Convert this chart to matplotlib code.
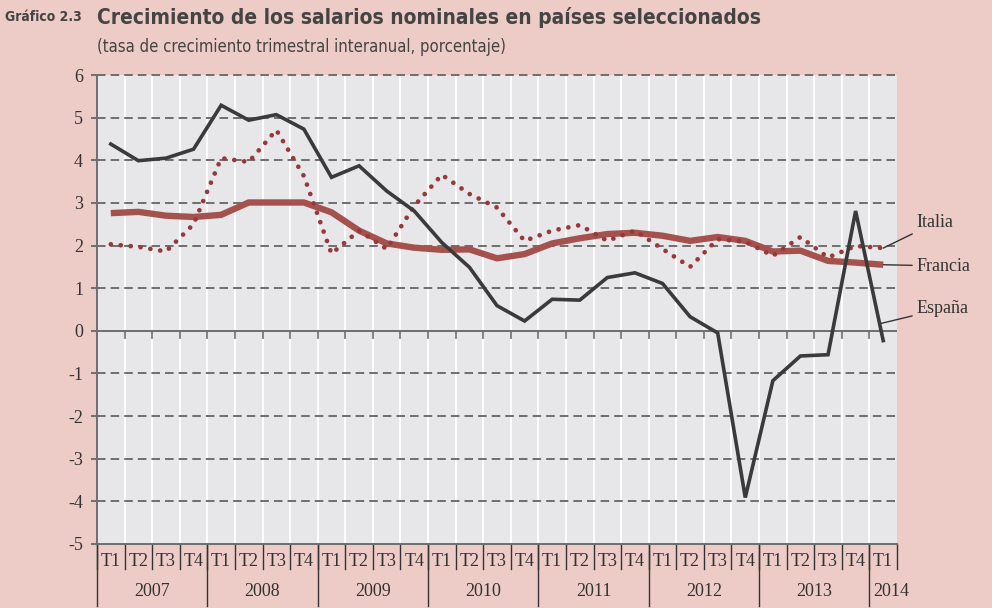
import numpy as np
import matplotlib.pyplot as plt
import matplotlib.transforms as mtransforms

plt.rcParams['axes.unicode_minus'] = False

# ---- data ----
quarters = ['T1', 'T2', 'T3', 'T4'] * 7 + ['T1']
years = ['2007', '2008', '2009', '2010', '2011', '2012', '2013', '2014']

espana = [4.38, 3.99, 4.05, 4.26, 5.29, 4.94, 5.07, 4.73,
          3.60, 3.87, 3.28, 2.81, 2.07, 1.49, 0.59, 0.23,
          0.74, 0.72, 1.25, 1.36, 1.11, 0.33, -0.05, -3.91,
          -1.17, -0.59, -0.56, 2.81, -0.23]
francia = [2.76, 2.79, 2.70, 2.67, 2.72, 3.01, 3.01, 3.01,
           2.78, 2.35, 2.05, 1.95, 1.90, 1.91, 1.70, 1.80,
           2.05, 2.17, 2.27, 2.30, 2.23, 2.11, 2.20, 2.11,
           1.86, 1.88, 1.64, 1.60, 1.55]
italia = [2.03, 1.97, 1.86, 2.50, 4.05, 3.96, 4.71, 3.63,
          1.81, 2.35, 1.92, 2.93, 3.66, 3.21, 2.89, 2.11,
          2.35, 2.48, 2.11, 2.35, 1.92, 1.50, 2.15, 2.09,
          1.76, 2.20, 1.72, 1.99, 1.94]

x = np.arange(len(quarters))

bg = '#EDCBC6'
panel = '#E7E7E9'
grey = '#6E6E6E'
txt = '#333333'
serif = ['Liberation Serif', 'DejaVu Serif']
cond = ['DejaVu Sans']

fig = plt.figure(figsize=(9.92, 6.08), dpi=100, facecolor=bg)
ax = fig.add_axes([97 / 992, 64 / 608, 800 / 992, 469 / 608])
ax.set_facecolor(panel)
ax.set_xlim(-0.5, len(x) - 0.5)
ax.set_ylim(-5, 6)

# vertical white grid at quarter boundaries
for b in np.arange(0.5, len(x) - 0.5, 1):
    ax.axvline(b, color='white', lw=1.3, zorder=1)

# dashed horizontal grid
for yv in range(-4, 7):
    if yv == 0:
        continue
    ax.axhline(yv, color=grey, lw=1.4, ls=(0, (4.4, 2.6)), zorder=2, clip_on=False)
ax.axhline(0, color=grey, lw=1.4, zorder=2)
for b in np.arange(0.5, len(x) - 0.5, 1):
    ax.plot([b, b], [0, -0.16], color=grey, lw=1.2, zorder=2)

for s in ['top', 'right']:
    ax.spines[s].set_visible(False)
for s in ['left', 'bottom']:
    ax.spines[s].set_color(grey)
    ax.spines[s].set_linewidth(1.4)

ax.set_yticks(range(-5, 7))
ax.set_yticklabels([str(v) for v in range(-5, 7)], fontfamily=serif, fontsize=13, color=txt)
ax.tick_params(axis='y', length=4, color=grey, width=1.4, pad=6)
ax.set_xticks([])

# series
ax.plot(x, francia, color='#A5524F', lw=4.6, solid_capstyle='butt', zorder=3)
ax.plot(x, italia, color='#97383B', lw=3.4, ls=(0, (0.01, 2.1)),
        dash_capstyle='round', zorder=4)
ax.plot(x, espana, color='#3A3A3A', lw=2.6, solid_joinstyle='miter', zorder=5)

# right-hand labels with leader lines
t = 0.87
esp_anchor = (x[-2] + t, espana[-2] + t * (espana[-1] - espana[-2]))
labels = [('Italia', (x[-1], italia[-1]), 2.53),
          ('Francia', (x[-1], francia[-1]), 1.52),
          ('España', esp_anchor, 0.52)]
for name, xy, ylab in labels:
    ax.annotate(name, xy=xy, xytext=(x[-1] + 1.2, ylab),
                textcoords='data', fontfamily=serif, fontsize=13, color=txt,
                va='center', ha='left', annotation_clip=False,
                arrowprops=dict(arrowstyle='-', color=txt, lw=1.0,
                                shrinkA=1, shrinkB=0))

# category axis below
trans = mtransforms.blended_transform_factory(ax.transData, fig.transFigure)
for i, q in enumerate(quarters):
    ax.text(i, 1 - 562 / 608, q, transform=trans, ha='center', va='center',
            fontfamily=serif, fontsize=13, color=txt)
for b in np.arange(-0.5, len(x), 1):
    ax.plot([b, b], [1 - 544 / 608, 1 - 569 / 608], transform=trans,
            color=txt, lw=1.0, clip_on=False)
for k, yr in enumerate(years):
    start = 4 * k - 0.5
    end = min(4 * k + 3.5, len(x) - 0.5)
    ax.text((start + end) / 2 + (0.3 if end - start < 2 else 0), 1 - 591 / 608, yr,
            transform=trans, ha='center', va='center', fontfamily=serif,
            fontsize=13, color=txt)
    ax.plot([start, start], [1 - 544 / 608, 1 - 606 / 608], transform=trans,
            color=txt, lw=1.0, clip_on=False)

# titles
fig.text(5 / 992, 1 - 17 / 608, 'Gráfico 2.3', fontfamily=cond, fontweight='bold',
         fontstretch='condensed', fontsize=10, color='#444444', va='center', ha='left')
fig.text(97 / 992, 1 - 17 / 608, 'Crecimiento de los salarios nominales en países seleccionados',
         fontfamily=cond, fontweight='bold', fontstretch='condensed', fontsize=15,
         color='#444444', va='center', ha='left')
fig.text(97 / 992, 1 - 47 / 608, '(tasa de crecimiento trimestral interanual, porcentaje)',
         fontfamily=cond, fontstretch='condensed', fontsize=12, color='#444444',
         va='center', ha='left')

fig.savefig('out.png', dpi=100, facecolor=bg)
